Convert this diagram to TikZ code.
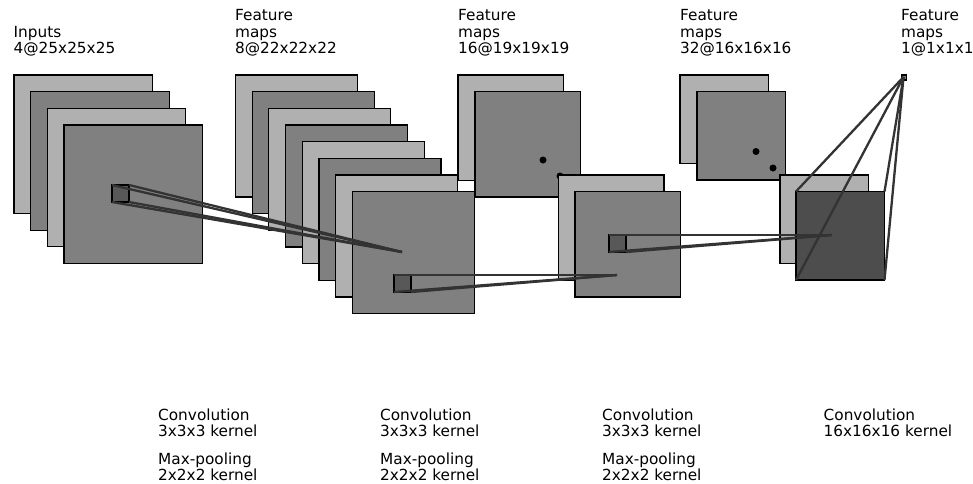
\documentclass[tikz,border=0pt]{standalone}
\usepackage{fontspec}
\setmainfont{DejaVu Sans}
\definecolor{paneL}{HTML}{B0B0B0}
\definecolor{paneD}{HTML}{808080}
\definecolor{kernel}{HTML}{585858}
\definecolor{paneF}{HTML}{4D4D4D}
\definecolor{reach}{HTML}{333333}
\tikzset{
  font=\fontsize{15.3}{16.7}\selectfont,
  %
  pane/.style={draw=black, line width=1.3pt, anchor=north west, inner sep=0pt,
               outer sep=0pt, minimum size=#1},
  panel/.style={pane=#1, fill=paneL},
  paned/.style={pane=#1, fill=paneD},
  panef/.style={pane=#1, fill=paneF},
  kbox/.style={pane=17pt, fill=kernel},
  %
  dotk/.style={circle, fill=black, inner sep=0pt, minimum size=7pt},
  reachline/.style={draw=reach, line width=2.3pt},
  %
  lbl/.style={anchor=south west, align=left, inner sep=0pt, text depth=0pt},
}

\begin{document}
\begin{tikzpicture}[x=1pt, y=-1pt]
\useasboundingbox (0,0) rectangle (973,483);

% =========================================================================
% stacks of feature maps
% =========================================================================
\foreach \k in {0,...,3} {
  \pgfmathtruncatemacro{\odd}{mod(\k,2)}
  \ifnum\odd=0 \def\tone{panel}\else \def\tone{paned}\fi
  \node[\tone=138.5pt] (in\k) at ({14+16.67*\k},{75+16.67*\k}) {};
}
\foreach \k in {0,...,7} {
  \pgfmathtruncatemacro{\odd}{mod(\k,2)}
  \ifnum\odd=0 \def\tone{panel}\else \def\tone{paned}\fi
  \node[\tone=122pt] (fa\k) at ({235.5+16.67*\k},{75+16.67*\k}) {};
}

\node[panel=105.5pt] (fb0) at (458,75) {};
\node[paned=105.5pt] (fb1) at (475,91.5) {};
\node[dotk] (fbdot0) at (543,160) {};
\node[dotk] (fbdot1) at (560,176) {};
\node[panel=105.5pt] (fb2) at (558.5,175) {};
\node[paned=105.5pt] (fb3) at (575,191.5) {};

\node[panel=88.5pt] (fc0) at (680,75) {};
\node[paned=88.5pt] (fc1) at (697,91.5) {};
\node[dotk] (fcdot0) at (756,151.5) {};
\node[dotk] (fcdot1) at (773,168) {};
\node[panel=88.5pt] (fc2) at (780,175) {};
\node[panef=88.5pt] (fc3) at (796,191.5) {};

\node[pane=5pt, fill=paneD, line width=1.1pt] (out) at (901.5,75) {};

% kernels
\node[kbox] (ka) at (112,185) {};
\node[kbox] (kb) at (394,275) {};
\node[kbox] (kc) at (609,235) {};

% =========================================================================
% kernel reach
% =========================================================================
\coordinate (enda) at (402,252);
\coordinate (endb) at (617,275);
\coordinate (endc) at (832,235);
\coordinate (tip) at (903.5,77);

\foreach \c in {north west, south west, north east, south east} {
  \draw[reachline] (ka.\c) -- (enda);
  \draw[reachline] (kb.\c) -- (endb);
  \draw[reachline] (kc.\c) -- (endc);
  \draw[reachline] (fc3.\c) -- (tip);
}

% =========================================================================
% labels
% =========================================================================
\node[lbl] (tin) at (13.5,54) {Inputs\\4@25x25x25};
\node[lbl] (tfa) at (235,54) {Feature\\maps\\8@22x22x22};
\node[lbl] (tfb) at (458,54) {Feature\\maps\\16@19x19x19};
\node[lbl] (tfc) at (680,54) {Feature\\maps\\32@16x16x16};
\node[lbl] (tout) at (901,54) {Feature\\maps\\1@1x1x1};

\node[lbl] (ca) at (158,437) {Convolution\\3x3x3 kernel};
\node[lbl] (cb) at (380,437) {Convolution\\3x3x3 kernel};
\node[lbl] (cc) at (602,437) {Convolution\\3x3x3 kernel};
\node[lbl] (cd) at (823.5,437) {Convolution\\16x16x16 kernel};

\node[lbl] (pa) at (158,481) {Max-pooling\\2x2x2 kernel};
\node[lbl] (pb) at (380,481) {Max-pooling\\2x2x2 kernel};
\node[lbl] (pc) at (602,481) {Max-pooling\\2x2x2 kernel};

\end{tikzpicture}
\end{document}
